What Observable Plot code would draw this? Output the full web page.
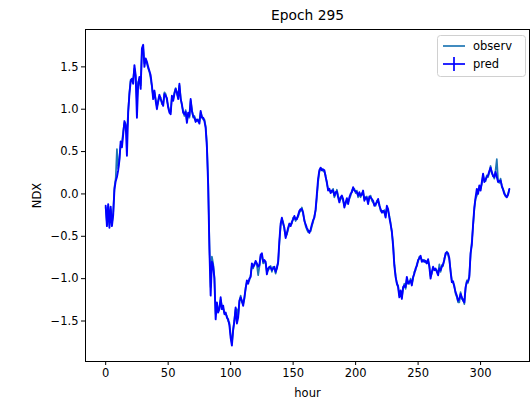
<!DOCTYPE html>
<html>
<head>
<meta charset="utf-8">
<script src="https://cdn.jsdelivr.net/npm/d3@7"></script>
<script src="https://cdn.jsdelivr.net/npm/@observablehq/plot@0.6"></script>
<style>
  html, body { margin: 0; padding: 0; background: white; }
</style>
</head>
<body>
<script>
const title = "Epoch 295";
const xLabel = "hour";
const yLabel = "NDX";
const seriesNames = ["observ", "pred"];
const xTicks = [0, 50, 100, 150, 200, 250, 300];
const yTicks = [-1.5, -1.0, -0.5, 0.0, 0.5, 1.0, 1.5];

const pred = [
  -0.14, -0.38, -0.12, -0.40, -0.15, -0.38, -0.25, 0.05, 0.15, 0.20,
  0.28, 0.40, 0.62, 0.55, 0.70, 0.86, 0.82, 0.45, 0.96, 1.18,
  1.33, 1.36, 1.30, 1.52, 1.40, 0.90, 1.30, 1.38, 1.24, 1.72,
  1.76, 1.50, 1.60, 1.56, 1.50, 1.45, 1.40, 1.28, 1.12, 1.22,
  1.10, 1.00, 1.10, 1.17, 1.12, 1.08, 1.04, 1.18, 1.16, 1.13,
  1.02, 0.96, 0.94, 1.16, 1.10, 1.18, 1.24, 1.20, 1.12, 1.30,
  1.12, 1.06, 0.96, 0.94, 0.97, 0.84, 0.96, 0.92, 1.12, 0.98,
  0.92, 0.90, 0.85, 0.88, 0.86, 0.83, 0.98, 0.90, 0.90, 0.86,
  0.78, 0.55, 0.10, -0.65, -1.20, -0.80, -0.85, -1.00, -1.48, -1.28,
  -1.40, -1.36, -1.22, -1.36, -1.32, -1.42, -1.40, -1.46, -1.48, -1.55,
  -1.70, -1.79, -1.60, -1.50, -1.34, -1.53, -1.46, -1.26, -1.22, -1.26,
  -1.32, -1.22, -1.12, -1.02, -1.06, -1.00, -0.98, -0.82, -0.86, -0.84,
  -0.79, -0.82, -0.86, -0.84, -0.72, -0.70, -0.80, -0.78, -0.80, -0.95,
  -0.88, -0.86, -0.87, -0.90, -0.88, -0.86, -0.92, -0.88, -0.80, -0.55,
  -0.35, -0.28, -0.35, -0.40, -0.52, -0.46, -0.40, -0.35, -0.38, -0.33,
  -0.30, -0.26, -0.30, -0.30, -0.25, -0.20, -0.18, -0.18, -0.22, -0.32,
  -0.36, -0.40, -0.43, -0.46, -0.42, -0.36, -0.31, -0.28, -0.18, 0.00,
  0.18, 0.28, 0.31, 0.28, 0.29, 0.28, 0.20, 0.14, 0.04, 0.06,
  0.01, 0.04, 0.04, -0.02, 0.02, 0.03, -0.04, -0.10, -0.04, -0.02,
  -0.06, -0.16, -0.10, -0.05, -0.12, -0.04, 0.00, 0.02, 0.08, 0.04,
  0.03, 0.02, -0.02, 0.02, -0.02, -0.01, 0.04, -0.08, -0.04, -0.05,
  -0.12, -0.03, -0.04, -0.06, -0.08, -0.14, -0.12, -0.10, -0.06, -0.14,
  -0.18, -0.22, -0.20, -0.21, -0.28, -0.14, -0.18, -0.28, -0.36, -0.44,
  -0.62, -0.85, -0.98, -1.05, -1.10, -1.22, -1.14, -1.24, -1.10, -1.08,
  -1.10, -0.98, -1.06, -1.04, -1.02, -1.08, -0.98, -0.94, -0.88, -0.85,
  -0.78, -0.76, -0.73, -0.80, -0.78, -0.80, -0.79, -0.82, -0.77, -0.86,
  -1.00, -0.92, -0.86, -0.90, -0.88, -0.92, -0.96, -0.88, -0.90, -0.86,
  -0.83, -0.78, -0.70, -0.69, -0.70, -0.76, -0.92, -1.04, -1.03, -1.10,
  -1.16, -1.20, -1.26, -1.24, -1.18, -1.22, -1.26, -1.28, -1.10, -1.04,
  -1.03, -0.98, -0.70, -0.60, -0.36, -0.16, -0.04, 0.06, 0.00, 0.10,
  0.04, 0.14, 0.24, 0.14, 0.17, 0.20, 0.22, 0.27, 0.31, 0.26,
  0.21, 0.20, 0.26, 0.20, 0.14, 0.15, 0.16, 0.10, 0.05, 0.00,
  -0.02, -0.04, -0.01, 0.06
];

const observ = [
  -0.16, -0.34, -0.15, -0.37, -0.18, -0.35, -0.22, 0.08, 0.18, 0.53,
  0.30, 0.42, 0.58, 0.60, 0.74, 0.84, 0.80, 0.72, 0.98, 1.20,
  1.35, 1.34, 1.36, 1.48, 1.38, 1.10, 1.32, 1.35, 1.28, 1.68,
  1.72, 1.54, 1.58, 1.54, 1.48, 1.44, 1.36, 1.26, 1.15, 1.20,
  1.12, 1.03, 1.08, 1.15, 1.14, 1.06, 1.06, 1.20, 1.18, 1.10,
  1.04, 0.98, 0.97, 1.14, 1.12, 1.20, 1.25, 1.18, 1.14, 1.28,
  1.14, 1.04, 0.98, 0.92, 0.99, 0.86, 0.94, 0.90, 1.10, 1.00,
  0.90, 0.92, 0.87, 0.86, 0.88, 0.85, 0.96, 0.92, 0.88, 0.88,
  0.80, 0.60, 0.16, -0.58, -1.10, -0.74, -0.82, -0.98, -1.42, -1.30,
  -1.38, -1.34, -1.25, -1.32, -1.35, -1.40, -1.42, -1.44, -1.50, -1.52,
  -1.66, -1.76, -1.62, -1.48, -1.36, -1.36, -1.44, -1.28, -1.20, -1.28,
  -1.30, -1.24, -1.10, -1.04, -1.04, -1.02, -0.96, -0.84, -0.88, -0.82,
  -0.81, -0.84, -0.96, -0.86, -0.74, -0.72, -0.82, -0.80, -0.82, -0.92,
  -0.90, -0.88, -0.85, -0.92, -0.86, -0.88, -0.94, -0.86, -0.82, -0.58,
  -0.38, -0.30, -0.33, -0.42, -0.50, -0.48, -0.42, -0.36, -0.36, -0.35,
  -0.28, -0.28, -0.32, -0.28, -0.27, -0.22, -0.20, -0.16, -0.24, -0.30,
  -0.38, -0.42, -0.45, -0.44, -0.44, -0.38, -0.33, -0.26, -0.20, -0.04,
  0.14, 0.26, 0.30, 0.30, 0.27, 0.26, 0.22, 0.12, 0.06, 0.04,
  0.03, 0.02, 0.06, -0.04, 0.00, 0.05, -0.02, -0.08, -0.06, -0.04,
  -0.08, -0.14, -0.12, -0.07, -0.10, -0.06, -0.02, 0.04, 0.06, 0.06,
  0.01, 0.04, -0.04, 0.00, -0.04, 0.01, 0.02, -0.06, -0.06, -0.03,
  -0.10, -0.05, -0.02, -0.08, -0.10, -0.12, -0.14, -0.08, -0.08, -0.12,
  -0.20, -0.20, -0.22, -0.19, -0.26, -0.16, -0.20, -0.26, -0.34, -0.46,
  -0.58, -0.82, -0.96, -1.07, -1.08, -1.20, -1.16, -1.22, -1.12, -1.06,
  -1.12, -1.00, -1.04, -1.06, -1.00, -1.06, -1.00, -0.92, -0.90, -0.83,
  -0.80, -0.74, -0.75, -0.78, -0.80, -0.78, -0.81, -0.80, -0.79, -0.84,
  -0.97, -0.94, -0.88, -0.88, -0.90, -0.90, -0.94, -0.83, -0.92, -0.84,
  -0.85, -0.76, -0.72, -0.68, -0.72, -0.78, -0.90, -1.02, -1.05, -1.08,
  -1.18, -1.22, -1.28, -1.28, -1.16, -1.24, -1.24, -1.30, -1.12, -1.02,
  -1.05, -0.96, -0.72, -0.56, -0.38, -0.18, -0.06, -0.02, 0.02, 0.08,
  0.06, 0.12, 0.22, 0.16, 0.15, 0.22, 0.20, 0.25, 0.33, 0.24,
  0.22, 0.18, 0.28, 0.41, 0.16, 0.13, 0.18, 0.08, 0.06, 0.02,
  -0.03, -0.03, 0.00, 0.05
];

const hours = d3.range(pred.length);
const observData = hours.map(h => ({hour: h, value: observ[h]}));
const predData = hours.map(h => ({hour: h, value: pred[h]}));

const fmt = d => (d < 0 ? "\u2212" : "") + Math.abs(d).toFixed(1);

const xMin = 0, xMax = pred.length - 1;
const xPad = (xMax - xMin) * 0.05;

const chart = Plot.plot({
  width: 531,
  height: 400,
  marginLeft: 85,
  marginRight: 2,
  marginTop: 29,
  marginBottom: 39,
  style: {fontFamily: "DejaVu Sans", fontSize: "11.5px", color: "black", background: "white"},
  x: {domain: [xMin - xPad, xMax + xPad]},
  y: {domain: [-1.978, 1.941]},
  marks: [
    Plot.line(observData, {x: "hour", y: "value", stroke: "#1f77b4", strokeWidth: 1.7}),
    Plot.line(predData, {x: "hour", y: "value", stroke: "#0000ff", strokeWidth: 1.9}),
    Plot.frame({stroke: "black", strokeWidth: 1}),
    Plot.axisX({ticks: xTicks, tickSize: 4, tickPadding: 3, label: null, tickFormat: d => String(d)}),
    Plot.axisY({ticks: yTicks, tickSize: 4, tickPadding: 3, label: null, tickFormat: fmt}),
    Plot.text([xLabel], {frameAnchor: "bottom", dy: 32, text: d => d, fontSize: 11.5, lineAnchor: "middle", textAnchor: "middle"}),
    Plot.text([yLabel], {frameAnchor: "left", dx: -48, rotate: -90, text: d => d, fontSize: 11.5, lineAnchor: "middle", textAnchor: "middle"}),
    Plot.text([title], {frameAnchor: "top", dy: -14, text: d => d, fontSize: 13.8, lineAnchor: "middle", textAnchor: "middle"})
  ]
});

// legend
const svg = d3.select(chart);
const lg = svg.append("g").attr("font-family", "DejaVu Sans").attr("font-size", "11.5px").attr("text-anchor", "start");
lg.append("rect").attr("x", 437.5).attr("y", 35.5).attr("width", 88).attr("height", 41)
  .attr("rx", 3).attr("fill", "white").attr("fill-opacity", 0.8).attr("stroke", "#d0d0d0");
lg.append("line").attr("x1", 443).attr("x2", 465).attr("y1", 46).attr("y2", 46)
  .attr("stroke", "#1f77b4").attr("stroke-width", 1.7);
lg.append("text").attr("x", 473).attr("y", 46).attr("dy", "0.35em").attr("text-anchor", "start").text(seriesNames[0]);
lg.append("line").attr("x1", 443).attr("x2", 465).attr("y1", 64).attr("y2", 64)
  .attr("stroke", "#0000ff").attr("stroke-width", 1.7);
lg.append("line").attr("x1", 454).attr("x2", 454).attr("y1", 57).attr("y2", 71)
  .attr("stroke", "#0000ff").attr("stroke-width", 1.7);
lg.append("text").attr("x", 473).attr("y", 64).attr("dy", "0.35em").attr("text-anchor", "start").text(seriesNames[1]);

document.body.appendChild(chart);
</script>
</body>
</html>
